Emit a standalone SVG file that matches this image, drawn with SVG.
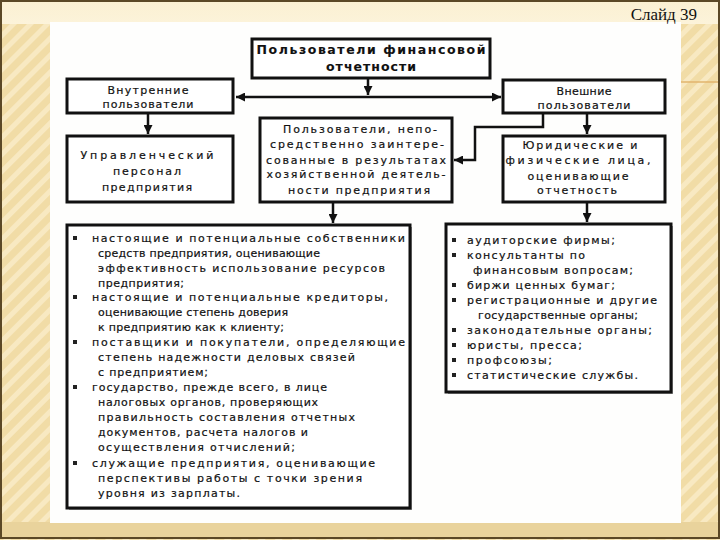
<svg xmlns="http://www.w3.org/2000/svg" width="720" height="540" viewBox="0 0 720 540">
<defs>
<pattern id="stripes" width="12" height="12" patternUnits="userSpaceOnUse" patternTransform="rotate(45)">
<rect width="12" height="12" fill="#f1dca6"/>
<rect width="5" height="12" fill="#f8e9c2"/>
</pattern>
<linearGradient id="topband" x1="0" y1="0" x2="0" y2="1">
<stop offset="0" stop-color="#fbf0d2"/>
<stop offset="1" stop-color="#fcf3da"/>
</linearGradient>
<marker id="ah" viewBox="0 0 10 10" refX="10" refY="5" markerWidth="9" markerHeight="9" markerUnits="userSpaceOnUse" orient="auto-start-reverse">
<path d="M0,0 L10,5 L0,10 z" fill="#111"/>
</marker>
<style>
.box{fill:#fff;stroke:#111;stroke-width:3}
.sh{fill:#9a9a9a}
.t{font-family:"DejaVu Sans","Noto Sans",sans-serif;font-size:11px;fill:#111;stroke:#111;stroke-width:0.2}
.c{text-anchor:middle}
.b{font-weight:bold;font-size:12.5px;stroke-width:0.1}
.con{fill:none;stroke:#111;stroke-width:2.5}
.bul{fill:#222}
</style>
</defs>

<!-- slide background -->
<rect x="0" y="0" width="720" height="540" fill="url(#stripes)"/>
<rect x="0" y="0" width="720" height="24" fill="url(#topband)"/>
<rect x="0" y="522" width="720" height="16" fill="#e9d39c"/>
<rect x="50" y="22" width="631" height="501" fill="#fefefd"/>
<line x1="681" y1="82" x2="720" y2="82" stroke="#e2b46c" stroke-width="1.5"/>
<rect x="1" y="1" width="718" height="537" fill="none" stroke="#5b4826" stroke-width="2"/>
<text x="697" y="20" text-anchor="end" font-family="'Liberation Serif',serif" font-size="17" fill="#111">Слайд 39</text>

<!-- connectors -->
<g id="connectors">
<path class="con" d="M368,79 V95" marker-end="url(#ah)"/>
<path class="con" d="M236,97 H501" marker-start="url(#ah)" marker-end="url(#ah)"/>
<path class="con" d="M148,114 V134" marker-end="url(#ah)"/>
<path class="con" d="M587,114 V134" marker-end="url(#ah)"/>
<path class="con" d="M543,114 V127 H475 V160 H454" marker-end="url(#ah)"/>
<path class="con" d="M333,203 V223" marker-end="url(#ah)"/>
<path class="con" d="M587,203 V222" marker-end="url(#ah)"/>
</g>

<g id="top">
<rect class="box" x="252" y="39" width="238" height="39"/>
<text class="t b c" x="371" y="54" textLength="229" lengthAdjust="spacing">Пользователи финансовой</text>
<text class="t b c" x="371" y="71" textLength="90" lengthAdjust="spacing">отчетности</text>
</g>

<g id="internal">
<rect class="box" x="67" y="79" width="166" height="34"/>
<text class="t c" x="148" y="94" textLength="81" lengthAdjust="spacing">Внутренние</text>
<text class="t c" x="148" y="108" textLength="91" lengthAdjust="spacing">пользователи</text>
</g>

<g id="external">
<rect class="box" x="503" y="80" width="162" height="33"/>
<text class="t c" x="584" y="95" textLength="55" lengthAdjust="spacing">Внешние</text>
<text class="t c" x="584" y="109" textLength="93" lengthAdjust="spacing">пользователи</text>
</g>

<g id="management">
<rect class="box" x="67" y="136" width="166" height="66"/>
<text class="t c" x="147" y="159" textLength="133" lengthAdjust="spacing">Управленческий</text>
<text class="t c" x="147" y="175" textLength="68" lengthAdjust="spacing">персонал</text>
<text class="t c" x="147" y="191" textLength="90" lengthAdjust="spacing">предприятия</text>
</g>

<g id="direct">
<rect class="box" x="260" y="118" width="192" height="84"/>
<text class="t c" x="360" y="133" textLength="154" lengthAdjust="spacing">Пользователи, непо-</text>
<text class="t c" x="357" y="148" textLength="174" lengthAdjust="spacing">средственно заинтере-</text>
<text class="t c" x="356" y="164" textLength="180" lengthAdjust="spacing">сованные в результатах</text>
<text class="t c" x="356" y="178" textLength="179" lengthAdjust="spacing">хозяйственной деятель-</text>
<text class="t c" x="359" y="194" textLength="142" lengthAdjust="spacing">ности предприятия</text>
</g>

<g id="legal">
<rect class="box" x="503" y="136" width="162" height="66"/>
<text class="t c" x="580" y="149" textLength="115" lengthAdjust="spacing">Юридические и</text>
<text class="t c" x="578" y="164" textLength="145" lengthAdjust="spacing">физические лица,</text>
<text class="t c" x="578" y="180" textLength="101" lengthAdjust="spacing">оценивающие</text>
<text class="t c" x="577" y="194" textLength="80" lengthAdjust="spacing">отчетность</text>
</g>

<g id="internal-list">
<rect class="sh" x="69" y="227" width="343" height="283"/>
<rect class="box" x="67" y="225" width="343" height="283"/>
<rect class="bul" x="73" y="236" width="4" height="4"/>
<rect class="bul" x="73" y="295" width="4" height="4"/>
<rect class="bul" x="73" y="340" width="4" height="4"/>
<rect class="bul" x="73" y="385" width="4" height="4"/>
<rect class="bul" x="73" y="461" width="4" height="4"/>
<text class="t" x="92" y="242" textLength="313" lengthAdjust="spacing">настоящие и потенциальные собственники</text>
<text class="t" x="98" y="257" textLength="222" lengthAdjust="spacing">средств предприятия, оценивающие</text>
<text class="t" x="98" y="272" textLength="287" lengthAdjust="spacing">эффективность использование ресурсов</text>
<text class="t" x="98" y="287" textLength="86" lengthAdjust="spacing">предприятия;</text>
<text class="t" x="92" y="301" textLength="296" lengthAdjust="spacing">настоящие и потенциальные кредиторы,</text>
<text class="t" x="98" y="316" textLength="190" lengthAdjust="spacing">оценивающие степень доверия</text>
<text class="t" x="98" y="331" textLength="186" lengthAdjust="spacing">к предприятию как к клиенту;</text>
<text class="t" x="92" y="346" textLength="313" lengthAdjust="spacing">поставщики и покупатели, определяющие</text>
<text class="t" x="98" y="361" textLength="257" lengthAdjust="spacing">степень надежности деловых связей</text>
<text class="t" x="98" y="376" textLength="110" lengthAdjust="spacing">с предприятием;</text>
<text class="t" x="92" y="391" textLength="235" lengthAdjust="spacing">государство, прежде всего, в лице</text>
<text class="t" x="98" y="406" textLength="220" lengthAdjust="spacing">налоговых органов, проверяющих</text>
<text class="t" x="98" y="421" textLength="257" lengthAdjust="spacing">правильность составления отчетных</text>
<text class="t" x="98" y="436" textLength="210" lengthAdjust="spacing">документов, расчета налогов и</text>
<text class="t" x="98" y="451" textLength="197" lengthAdjust="spacing">осуществления отчислений;</text>
<text class="t" x="92" y="467" textLength="283" lengthAdjust="spacing">служащие предприятия, оценивающие</text>
<text class="t" x="98" y="482" textLength="264" lengthAdjust="spacing">перспективы работы с точки зрения</text>
<text class="t" x="98" y="497" textLength="142" lengthAdjust="spacing">уровня из зарплаты.</text>
</g>

<g id="external-list">
<rect class="sh" x="448" y="226" width="225" height="168"/>
<rect class="box" x="446" y="224" width="225" height="168"/>
<rect class="bul" x="452" y="238" width="4" height="4"/>
<rect class="bul" x="452" y="253" width="4" height="4"/>
<rect class="bul" x="452" y="283" width="4" height="4"/>
<rect class="bul" x="452" y="298" width="4" height="4"/>
<rect class="bul" x="452" y="328" width="4" height="4"/>
<rect class="bul" x="452" y="343" width="4" height="4"/>
<rect class="bul" x="452" y="358" width="4" height="4"/>
<rect class="bul" x="452" y="373" width="4" height="4"/>
<text class="t" x="467" y="244" textLength="148" lengthAdjust="spacing">аудиторские фирмы;</text>
<text class="t" x="467" y="259" textLength="118" lengthAdjust="spacing">консультанты по</text>
<text class="t" x="473" y="274" textLength="160" lengthAdjust="spacing">финансовым вопросам;</text>
<text class="t" x="467" y="289" textLength="148" lengthAdjust="spacing">биржи ценных бумаг;</text>
<text class="t" x="467" y="304" textLength="190" lengthAdjust="spacing">регистрационные и другие</text>
<text class="t" x="478" y="319" textLength="160" lengthAdjust="spacing">государственные органы;</text>
<text class="t" x="467" y="334" textLength="185" lengthAdjust="spacing">законодательные органы;</text>
<text class="t" x="467" y="349" textLength="115" lengthAdjust="spacing">юристы, пресса;</text>
<text class="t" x="467" y="364" textLength="85" lengthAdjust="spacing">профсоюзы;</text>
<text class="t" x="467" y="379" textLength="171" lengthAdjust="spacing">статистические службы.</text>
</g>
</svg>
